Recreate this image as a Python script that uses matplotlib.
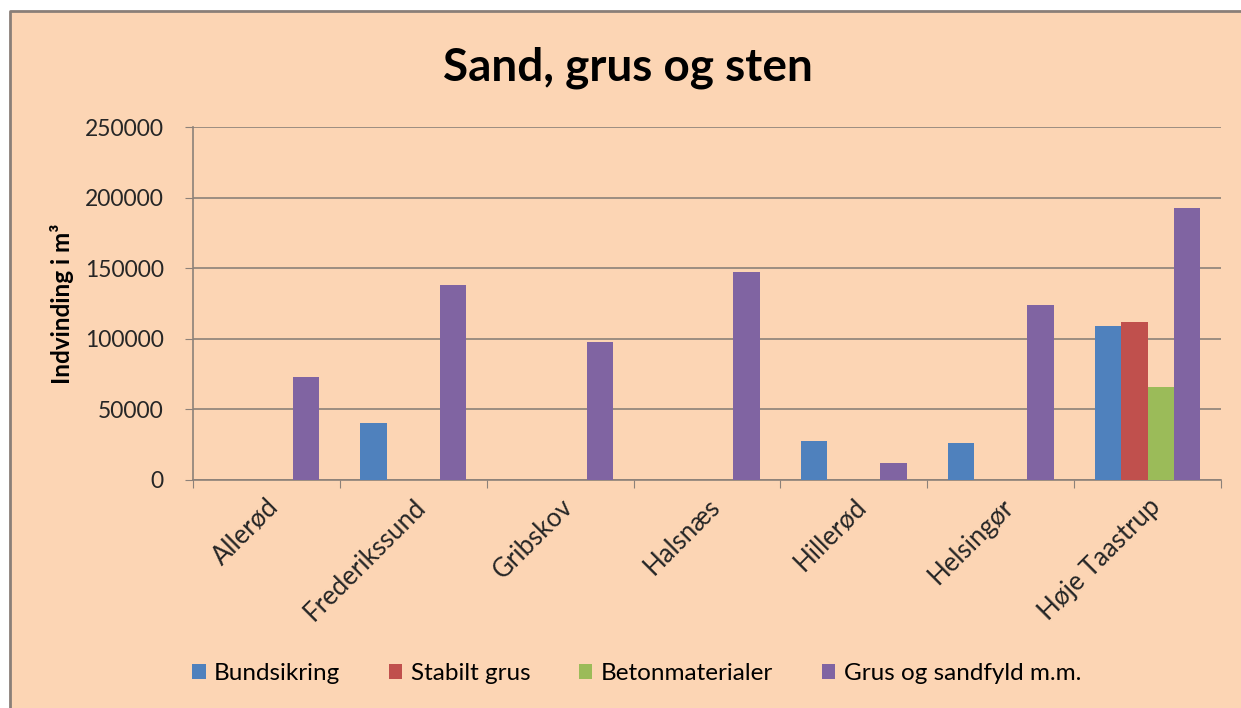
import numpy as np
import matplotlib.pyplot as plt
from matplotlib.patches import Rectangle
from matplotlib.lines import Line2D

plt.rcParams['font.family'] = ['Lato', 'DejaVu Sans']

# data
kommuner = ['Allerød', 'Frederikssund', 'Gribskov', 'Halsnæs',
            'Hillerød', 'Helsingør', 'Høje Taastrup']
bundsikring = [0, 40500, 0, 0, 27500, 26500, 109000]
stabilt_grus = [0, 0, 0, 0, 0, 0, 112000]
betonmaterialer = [0, 0, 0, 0, 0, 0, 66000]
grus_sandfyld = [73000, 138000, 97500, 147000, 12000, 124000, 192500]

serier = ['Bundsikring', 'Stabilt grus', 'Betonmaterialer', 'Grus og sandfyld m.m.']
farver = ['#4F81BD', '#C0504D', '#9BBB59', '#8064A2']
y_ticks = [0, 50000, 100000, 150000, 200000, 250000]

bg = '#FCD5B4'
fig = plt.figure(figsize=(12.41, 7.08), dpi=100, facecolor=bg)
# white margin top/left, gray border only on top and left
x0, y1 = 10/1241, 1 - 11/708
fig.patches.append(Rectangle((0, y1), 1.05, 0.1, transform=fig.transFigure,
                             facecolor='white', edgecolor='none', zorder=-10))
fig.patches.append(Rectangle((0, -0.05), x0, 1.1, transform=fig.transFigure,
                             facecolor='white', edgecolor='none', zorder=-10))
fig.lines.append(Line2D([x0, x0, 1.05], [-0.05, y1, y1], transform=fig.transFigure,
                        color='#8a7f78', linewidth=2, zorder=-9))

ax = fig.add_axes([193/1241, 1 - 480/708, (1221 - 193)/1241, (480 - 127)/708])
ax.set_zorder(1)
ax.set_facecolor(bg)

x = np.arange(len(kommuner))
w = 0.18
for i, (vals, navn, farve) in enumerate(zip(
        [bundsikring, stabilt_grus, betonmaterialer, grus_sandfyld], serier, farver)):
    ax.bar(x + (i - 1.5) * w, vals, width=w, color=farve, label=navn, zorder=3)

ax.set_xlim(-0.5, len(kommuner) - 0.5)
ax.set_ylim(0, 250000)
ax.set_yticks(y_ticks)
ax.set_yticklabels([str(v) for v in y_ticks], fontsize=16.5, color='#262626')
ax.yaxis.grid(True, color='#8c8179', linewidth=1.2, zorder=0)

# category boundaries as major ticks, labels on minor ticks
ax.set_xticks(np.arange(-0.5, len(kommuner)))
ax.set_xticklabels([])
ax.set_xticks(x, minor=True)
ax.set_xticklabels(kommuner, minor=True, rotation=45, ha='right',
                   rotation_mode='anchor', fontsize=18.5, color='#262626')
ax.tick_params(axis='x', which='minor', length=0, pad=10)
ax.tick_params(axis='x', which='major', length=6, color='#8c8179')
ax.tick_params(axis='y', length=6, color='#8c8179', pad=15)

for s in ['top', 'right']:
    ax.spines[s].set_visible(False)
for s in ['left', 'bottom']:
    ax.spines[s].set_color('#8c8179')
    ax.spines[s].set_linewidth(1.2)

ax.set_ylabel('Indvinding i m³', fontsize=17.5, fontweight='bold', labelpad=8)

fig.text(0.506, 0.905, 'Sand, grus og sten', ha='center', va='center',
         fontsize=33, fontweight='bold')

fig.legend(loc='center', bbox_to_anchor=(0.513, 0.049), ncol=4, frameon=False,
           fontsize=17.5, handlelength=0.55, handleheight=0.55, handletextpad=0.35,
           columnspacing=2.0)

fig.savefig('out.png', dpi=100, facecolor=bg)
